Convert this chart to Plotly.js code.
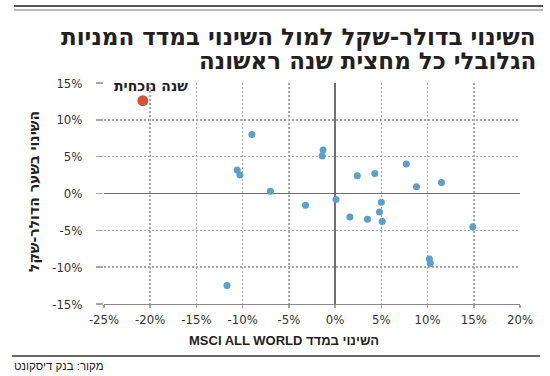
<!DOCTYPE html>
<html>
<head>
<meta charset="utf-8">
<script src="https://cdn.plot.ly/plotly-3.0.1.min.js"></script>
<style>
html,body{margin:0;padding:0;background:#fff;}
#chart{width:550px;height:376px;}
</style>
</head>
<body>
<div id="chart"></div>
<script>
// MSCI All World change (%) per first half-year
var msciChange = [-9.0, -10.6, -10.3, -7.0, -1.3, -1.4, 2.4, 4.3, 7.7, 8.8, 11.5, -3.2, 0.1, 5.0, 4.8, 1.6, 3.5, 5.1, 14.9, 10.2, 10.3, -11.7];
// USD/ILS change (%) per first half-year
var usdIlsChange = [8.0, 3.2, 2.5, 0.3, 5.9, 5.1, 2.4, 2.7, 4.0, 0.9, 1.5, -1.6, -0.8, -1.2, -2.5, -3.2, -3.5, -3.8, -4.5, -8.9, -9.5, -12.5];
// current year
var currentMsci = [-20.8];
var currentUsdIls = [12.6];
var currentLabel = 'שנה נוכחית';

var xTickVals = [-25, -20, -15, -10, -5, 0, 5, 10, 15, 20];
var xTickText = ['-25%', '-20%', '-15%', '-10%', '-5%', '0%', '5%', '10%', '15%', '20%'];
var yTickVals = [-15, -10, -5, 0, 5, 10, 15];
var yTickText = ['-15%', '-10%', '-5%', '0%', '5%', '10%', '15%'];

var titleLine1 = 'השינוי בדולר-שקל למול השינוי במדד המניות';
var titleLine2 = 'הגלובלי כל מחצית שנה ראשונה';
var xTitle = '\u202Bהשינוי במדד MSCI ALL WORLD\u202C';
var yTitle = 'השינוי בשער הדולר-שקל';
var sourceText = 'מקור: בנק דיסקונט';

var tickFont = {family: '"Liberation Sans Narrow", "DejaVu Sans Condensed", sans-serif', size: 13, color: '#333'};
var hebBold = '"DejaVu Sans", sans-serif';

var traces = [
  {
    type: 'scatter', mode: 'markers',
    x: msciChange, y: usdIlsChange,
    marker: {color: '#5b9fcb', size: 7},
    hoverinfo: 'x+y', showlegend: false
  },
  {
    type: 'scatter', mode: 'markers',
    x: currentMsci, y: currentUsdIls,
    marker: {color: '#d6533a', size: 11},
    hoverinfo: 'x+y', showlegend: false
  }
];

var W = 416, H = 221, L = 104, T = 83;
function px(X){ return (X - L) / W; }
function py(Y){ return (T + H - Y) / H; }

var layout = {
  width: 550, height: 376,
  margin: {l: L, r: 30, t: T, b: 72},
  paper_bgcolor: '#fff', plot_bgcolor: '#fff',
  showlegend: false,
  xaxis: {
    range: [-25, 20], tickvals: xTickVals, ticktext: xTickText,
    showgrid: true, gridcolor: '#a8a8a8', griddash: '2px,2px', gridwidth: 1.5,
    zeroline: true, zerolinecolor: '#6e6e6e', zerolinewidth: 1.5,
    showline: true, linecolor: '#8a8a8a', linewidth: 1.2, mirror: false,
    ticks: 'outside', ticklen: 3, tickcolor: '#a8a8a8', tickwidth: 1.5,
    tickfont: tickFont, fixedrange: true
  },
  yaxis: {
    range: [-15, 15], tickvals: yTickVals, ticktext: yTickText,
    showgrid: true, gridcolor: '#a8a8a8', griddash: '2px,2px', gridwidth: 1.5,
    zeroline: true, zerolinecolor: '#6e6e6e', zerolinewidth: 1.5,
    showline: false,
    ticks: 'outside', ticklen: 7, tickcolor: '#a8a8a8', tickwidth: 1.5,
    ticklabelstandoff: 11,
    tickfont: tickFont, fixedrange: true
  },
  shapes: [
    {type: 'line', xref: 'paper', yref: 'paper', x0: px(14), x1: px(543), y0: py(6), y1: py(6), line: {color: '#555', width: 2}},
    {type: 'line', xref: 'paper', yref: 'paper', x0: px(14), x1: px(543), y0: py(10), y1: py(10), line: {color: '#777', width: 1}},
    {type: 'line', xref: 'paper', yref: 'paper', x0: px(12), x1: px(540), y0: py(356), y1: py(356), line: {color: '#333', width: 1.5}}
  ],
  annotations: [
    {xref: 'paper', yref: 'paper', x: px(538), y: py(37), xanchor: 'right', yanchor: 'middle', showarrow: false,
     text: titleLine1, font: {family: hebBold, size: 23, color: '#231f20', weight: 'bold'}},
    {xref: 'paper', yref: 'paper', x: px(538), y: py(61), xanchor: 'right', yanchor: 'middle', showarrow: false,
     text: titleLine2, font: {family: hebBold, size: 23, color: '#231f20', weight: 'bold'}},
    {xref: 'paper', yref: 'paper', x: px(34), y: py(192), xanchor: 'center', yanchor: 'middle', showarrow: false, textangle: -90,
     text: yTitle, font: {family: hebBold, size: 14, color: '#231f20', weight: 'bold'}},
    {xref: 'paper', yref: 'paper', x: px(284), y: py(340), xanchor: 'center', yanchor: 'middle', showarrow: false,
     text: xTitle, font: {family: '"Liberation Sans", "DejaVu Sans", sans-serif', size: 13, color: '#231f20', weight: 'bold'}},
    {xref: 'paper', yref: 'paper', x: px(12), y: py(366), xanchor: 'left', yanchor: 'middle', showarrow: false,
     text: sourceText, font: {family: '"Liberation Sans", "DejaVu Sans", sans-serif', size: 11.5, color: '#231f20'}},
    {xref: 'x', yref: 'y', x: currentMsci[0], y: currentUsdIls[0], xshift: 8, yshift: 15, xanchor: 'center', yanchor: 'middle', showarrow: false,
     text: currentLabel, font: {family: hebBold, size: 14, color: '#231f20', weight: 'bold'}}
  ]
};

Plotly.newPlot('chart', traces, layout, {displayModeBar: false, staticPlot: true});
</script>
</body>
</html>
